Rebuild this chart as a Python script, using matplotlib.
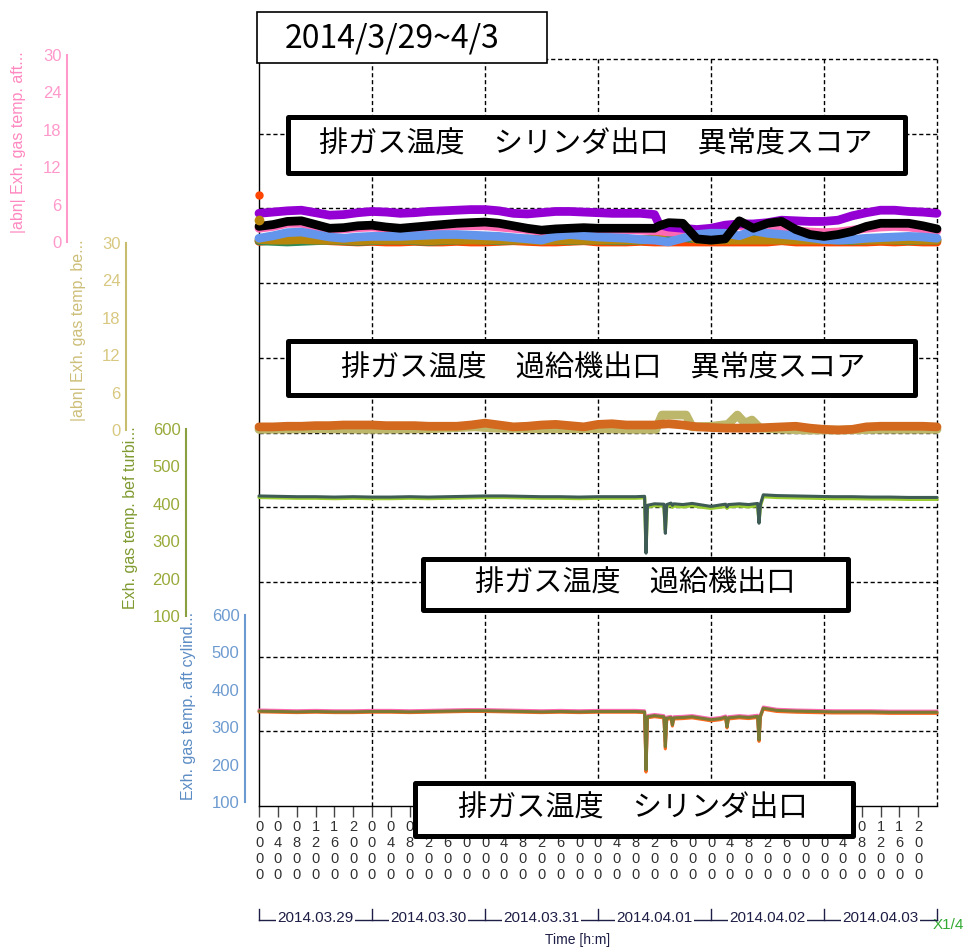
import matplotlib
matplotlib.use("Agg")
import matplotlib.pyplot as plt
from matplotlib.patches import Rectangle
from matplotlib.lines import Line2D

plt.rcParams['font.family'] = ['Liberation Sans', 'DejaVu Sans']

W, H = 967, 948

# ---------------- data ----------------
# panel 1: |abn| score, exhaust gas temp after cylinder (hours since 2014-03-29 00:00)
t_abn = [0, 3, 6, 9, 12, 15, 18, 21, 24, 27, 30, 33, 36, 39, 42, 45, 48, 51, 54, 57,
         60, 63, 66, 69, 72, 75, 78, 81, 84, 85, 87, 90, 93, 96, 99, 102, 105, 108, 111, 114,
         117, 120, 123, 126, 129, 132, 135, 138, 141, 144]
abn_cyl_purple = [4.6, 4.8, 5.0, 5.1, 4.7, 4.3, 4.4, 4.7, 4.9, 4.8, 4.6, 4.7, 4.9, 5.0, 5.1, 5.2, 5.2, 5.0, 4.6, 4.5,
                  4.7, 4.9, 4.9, 4.8, 4.7, 4.6, 4.6, 4.6, 4.4, 2.8, 2.4, 2.2, 2.0, 2.2, 2.7, 2.9, 2.9, 3.1, 3.5, 3.4,
                  3.3, 3.3, 3.5, 4.2, 4.7, 5.1, 5.1, 4.9, 4.8, 4.6]
abn_cyl_black = [2.5, 2.8, 3.3, 3.4, 2.8, 2.2, 2.3, 2.6, 2.7, 2.4, 2.2, 2.4, 2.6, 2.8, 3.0, 3.1, 3.2, 3.0, 2.6, 2.2,
                 1.9, 2.1, 2.2, 2.3, 2.2, 2.2, 2.2, 2.2, 2.2, 2.6, 3.1, 3.0, 0.5, 0.3, 0.5, 3.4, 2.2, 3.0, 3.3, 2.0,
                 1.2, 0.9, 1.2, 1.7, 2.5, 3.0, 3.0, 3.0, 2.6, 2.1]
abn_cyl_pink = [2.2, 2.5, 3.0, 3.0, 2.5, 2.0, 2.1, 2.3, 2.4, 2.2, 2.0, 2.2, 2.3, 2.5, 2.6, 2.6, 2.6, 2.4, 2.2, 2.0,
                1.7, 1.9, 2.0, 2.0, 2.0, 2.0, 2.0, 1.9, 1.8, 1.8, 1.6, 1.5, 1.4, 1.8, 2.4, 2.6, 2.4, 2.4, 2.2, 1.8,
                1.6, 1.5, 1.6, 1.9, 2.2, 2.4, 2.5, 2.4, 2.1, 1.8]
abn_cyl_blue = [0.6, 1.0, 1.5, 1.6, 1.2, 0.8, 0.6, 0.8, 0.9, 0.9, 0.9, 1.0, 1.1, 1.2, 1.2, 1.1, 1.0, 0.9, 0.7, 0.5,
                0.3, 0.9, 1.2, 1.0, 0.8, 0.7, 0.6, 0.4, 0.3, 0.2, 0.0, 0.6, 1.2, 1.4, 1.4, 1.0, 1.8, 1.4, 1.2, 1.0,
                0.7, 0.4, 0.3, 0.4, 0.6, 0.7, 0.8, 0.9, 0.8, 0.6]
abn_cyl_green = [0.2, 0.1, 0.0, 0.1, 0.2, 0.3, 0.2, 0.1, 0.2, 0.3, 0.3, 0.2, 0.1, 0.2, 0.3, 0.4, 0.3, 0.2, 0.3, 0.5,
                 0.4, 0.3, 0.2, 0.3, 0.3, 0.2, 0.2, 0.3, 0.5, 0.6, 0.8, 0.7, 0.5, 0.8, 0.9, 0.6, 0.4, 0.6, 0.8, 0.9,
                 0.7, 0.5, 0.3, 0.2, 0.3, 0.4, 0.3, 0.2, 0.3, 0.3]
abn_cyl_orange = [0.1, 0.3, 0.5, 0.6, 0.4, 0.2, 0.1, 0.0, 0.1, 0.0, 0.0, 0.1, 0.0, 0.0, 0.1, 0.0, 0.0, 0.1, 0.2, 0.1,
                  0.0, 0.0, 0.1, 0.2, 0.0, 0.0, 0.0, 0.1, 0.0, 0.0, 0.0, 0.0, 0.0, 0.0, 0.0, 0.0, 0.0, 0.0, 0.2, 0.0,
                  0.0, 0.0, 0.0, 0.0, 0.0, 0.1, 0.0, 0.1, 0.0, 0.0]
abn_cyl_gold = [0.4, 0.3, 0.3, 0.4, 0.3, 0.3, 0.3, 0.2, 0.3, 0.3, 0.3, 0.3, 0.2, 0.3, 0.3, 0.3, 0.3, 0.3, 0.3, 0.3,
                0.2, 0.3, 0.3, 0.3, 0.3, 0.3, 0.3, 0.3, 0.4, 1.0, 1.9, 1.5, 0.4, 0.3, 0.3, 0.3, 0.3, 0.3, 0.3, 0.3,
                0.3, 0.3, 0.3, 0.3, 0.3, 0.3, 0.3, 0.3, 0.3, 0.3]
abn_cyl_start_orange = 7.6
abn_cyl_start_gold = 3.5

# panel 2: |abn| score, exhaust gas temp before turbine
abn_tb_orange = [0.5, 0.5, 0.6, 0.6, 0.7, 0.7, 0.8, 0.8, 0.8, 0.7, 0.7, 0.7, 0.6, 0.6, 0.6, 0.8, 1.1, 0.8, 0.5, 0.6,
                 0.8, 0.9, 0.7, 0.5, 0.9, 1.0, 0.8, 0.8, 0.8, 0.9, 1.0, 0.8, 0.5, 0.4, 0.3, 0.3, 0.3, 0.4, 0.5, 0.6,
                 0.3, 0.1, 0.0, 0.1, 0.5, 0.6, 0.6, 0.6, 0.6, 0.5]
t_kh = [0, 12, 24, 36, 46, 50, 60, 72, 80, 84.3, 85.6, 90.7, 92.0, 96, 99.6, 101.6, 103.2, 104.7, 106.4,
        112, 116, 124, 132, 144]
abn_tb_khaki = [0.1, 0.2, 0.1, 0.2, 0.5, 0.3, 0.2, 0.2, 0.1, 0.1, 2.4, 2.4, 0.5, 0.6, 0.9, 2.4, 1.1, 1.6, 0.3,
                0.1, 0.0, 0.0, 0.1, 0.1]

# panels 3 & 4: temperatures
t_temp = [0, 4, 8, 12, 16, 20, 24, 28, 32, 36, 40, 44, 48, 52, 56, 60, 64, 68, 72, 76, 80,
          81.9, 82.2, 82.5, 84, 86.0, 86.3, 86.6, 87.5, 87.8, 88.1, 90, 92, 94, 96, 98,
          99.1, 99.4, 99.7, 102, 104, 105.9, 106.2, 106.5, 107.1,
          110, 114, 118, 122, 126, 130, 134, 138, 142, 144]
tb_dark = [421, 420, 419, 419, 418, 419, 418, 418, 419, 418, 419, 420, 421, 421, 420, 419, 419, 418, 419, 419, 419,
           420, 268, 396, 400, 399, 321, 398, 402, 396, 400, 398, 401, 397, 393, 397,
           399, 392, 398, 400, 398, 401, 348, 399, 424,
           422, 421, 420, 419, 419, 418, 418, 417, 417, 417]
tb_green = [417, 416, 415, 415, 414, 415, 414, 414, 415, 414, 415, 416, 417, 417, 416, 415, 415, 414, 415, 415, 415,
            416, 275, 392, 395, 394, 330, 393, 396, 391, 394, 392, 395, 391, 388, 391,
            393, 388, 392, 394, 392, 395, 352, 394, 419,
            417, 416, 415, 414, 414, 413, 413, 412, 412, 412]
cyl_olive = [343, 342, 341, 342, 341, 341, 342, 342, 341, 342, 343, 344, 344, 343, 342, 341, 342, 341, 342, 342, 342,
             341, 186, 328, 331, 328, 248, 324, 326, 306, 325, 326, 328, 324, 320, 323,
             327, 301, 325, 328, 326, 329, 266, 330, 351,
             345, 343, 342, 341, 341, 341, 340, 340, 340, 340]
cyl_orange = [341, 340, 339, 340, 339, 339, 340, 340, 339, 340, 341, 342, 342, 341, 340, 339, 340, 339, 340, 340, 340,
              339, 180, 325, 328, 325, 242, 321, 323, 303, 322, 323, 325, 321, 317, 320,
              324, 298, 322, 325, 323, 326, 262, 327, 348,
              342, 340, 339, 338, 338, 338, 337, 337, 337, 337]
cyl_pink = [346, 345, 344, 345, 344, 344, 345, 345, 344, 345, 346, 347, 347, 346, 345, 344, 345, 344, 345, 345, 345,
            344, 200, 331, 334, 331, 260, 327, 329, 312, 328, 329, 331, 327, 323, 326,
            330, 306, 328, 331, 329, 332, 272, 333, 354,
            348, 346, 345, 344, 344, 344, 343, 343, 343, 343]

tick_hours = list(range(0, 144, 4))
day_labels = ["2014.03.29", "2014.03.30", "2014.03.31", "2014.04.01", "2014.04.02", "2014.04.03"]
axis_labels = ["|abn| Exh. gas temp. aft...", "|abn| Exh. gas temp. be...",
               "Exh. gas temp. bef turbi...", "Exh. gas temp. aft cylind..."]
abn_ticks = [0, 6, 12, 18, 24, 30]
temp_ticks = [100, 200, 300, 400, 500, 600]
box_texts = ["排ガス温度　シリンダ出口　異常度スコア", "排ガス温度　過給機出口　異常度スコア",
             "排ガス温度　過給機出口", "排ガス温度　シリンダ出口"]
title_text = "2014/3/29~4/3"

# ---------------- figure ----------------
fig = plt.figure(figsize=(W / 100, H / 100), dpi=100)
fig.patch.set_facecolor('white')


def fx(px):
    return px / W


def fy(py):
    return 1 - py / H


X0, X1 = 259, 937
Y0, Y1 = 59, 806
DASH = (0, (3, 2))

bg = fig.add_axes([fx(X0), fy(Y1), (X1 - X0) / W, (Y1 - Y0) / H])
bg.set_xlim(0, 144)
bg.set_ylim(0, 10)
bg.set_yticks([])
for s in ['top', 'right']:
    bg.spines[s].set_visible(False)
for s in ['left', 'bottom']:
    bg.spines[s].set_linewidth(1.0)
    bg.spines[s].set_color('black')
for k in range(1, 11):
    bg.axhline(k, color='black', lw=1.0, ls=DASH, zorder=0.5, clip_on=False)
for d in range(1, 7):
    bg.axvline(24 * d, color='black', lw=1.0, ls=DASH, zorder=0.5, clip_on=False)
bg.set_xticks(tick_hours)
bg.set_xticklabels(["\n".join(f"{h % 24:02d}00") for h in tick_hours],
                   fontsize=10.5, linespacing=1.2, color='#303030')
bg.tick_params(axis='x', length=8, width=1, color='#444444', pad=2)


def make_panel(top, bot, spine_x, ylim, ticks, color, labcolor):
    a = fig.add_axes([fx(X0), fy(bot), (X1 - X0) / W, (bot - top) / H])
    a.patch.set_visible(False)
    a.set_xlim(0, 144)
    a.set_ylim(*ylim)
    a.set_xticks([])
    for s in ['top', 'right', 'bottom']:
        a.spines[s].set_visible(False)
    a.spines['left'].set_position(('axes', (spine_x - X0) / (X1 - X0)))
    a.spines['left'].set_color(color)
    a.spines['left'].set_linewidth(1.5)
    a.set_yticks(ticks)
    a.tick_params(axis='y', length=0, pad=4, labelsize=12, labelcolor=labcolor)
    return a


def draw(a, t, v, color, lw, z):
    a.plot(t, v, color=color, lw=lw, solid_capstyle='round', solid_joinstyle='round',
           clip_on=False, zorder=z)


# panel 1
p1 = make_panel(55, 242, 67, (0, 30), abn_ticks, '#FF99CC', '#FF99CC')
LW1 = 6.3
draw(p1, t_abn, abn_cyl_orange, '#FF4500', LW1, 2)
draw(p1, t_abn, abn_cyl_green, '#2E8B57', LW1, 3)
draw(p1, t_abn, abn_cyl_gold, '#B8860B', LW1, 3.5)
draw(p1, t_abn, abn_cyl_pink, '#FF69B4', LW1, 4)
draw(p1, t_abn, abn_cyl_purple, '#9400D3', LW1, 5)
draw(p1, t_abn, abn_cyl_blue, '#6495ED', LW1, 6)
draw(p1, t_abn, abn_cyl_black, '#000000', LW1, 7)
p1.plot([t_abn[0]], [abn_cyl_start_orange], 'o', color='#FF4500', ms=5, clip_on=False, zorder=8)
p1.plot([t_abn[0]], [abn_cyl_start_gold], 'o', color='#B8860B', ms=6, clip_on=False, zorder=8)

# panel 2
p2 = make_panel(243, 430, 126, (0, 30), abn_ticks, '#C8BC6E', '#D8C880')
draw(p2, t_kh, abn_tb_khaki, '#BDB76B', 6.3, 3)
draw(p2, t_abn, abn_tb_orange, '#D2691E', 6.3, 4)

# panel 3
p3 = make_panel(429, 616, 186, (100, 600), temp_ticks, '#8AA040', '#9AAA3A')
draw(p3, t_temp, tb_green, '#9ACD32', 2.4, 3)
draw(p3, t_temp, tb_dark, '#3E5B55', 2.2, 4)

# panel 4
p4 = make_panel(615, 802, 245, (100, 600), temp_ticks, '#6A9AD0', '#6D9BD0')
draw(p4, t_temp, cyl_pink, '#FF69B4', 2.2, 2)
draw(p4, t_temp, cyl_orange, '#FF6A20', 2.2, 3)
draw(p4, t_temp, cyl_olive, '#7A7A35', 2.2, 4)

# axis labels
lab_cols = ['#FF88C0', '#CDBE78', '#7F9A2F', '#5B8CC4']
lab_pos = [(19, 142), (78, 330), (130, 518), (188, 706)]
for txt, c, (x, y) in zip(axis_labels, lab_cols, lab_pos):
    fig.text(fx(x), fy(y), txt, rotation=90, ha='center', va='center', fontsize=11.5, color=c)

# title box
fig.add_artist(Rectangle((fx(257), fy(63)), (547 - 257) / W, (63 - 12) / H, transform=fig.transFigure,
                         facecolor='white', edgecolor='black', lw=1.2, zorder=10))
fig.text(fx(392), fy(38), title_text, fontsize=23, family=['Noto Sans CJK JP', 'DejaVu Sans'],
         ha='center', va='center', zorder=11)

# annotation boxes
boxes = [((287.5, 117.5, 904.5, 172.5), (596, 145)),
         ((287.5, 341.5, 914.5, 395.5), (603, 369)),
         ((422.5, 558.5, 847.5, 609.5), (635, 584)),
         ((414.5, 782.5, 852.5, 835.5), (633, 809))]
for txt, ((x0, y0, x1, y1), (cx, cy)) in zip(box_texts, boxes):
    fig.add_artist(Rectangle((fx(x0), fy(y1)), (x1 - x0) / W, (y1 - y0) / H, transform=fig.transFigure,
                             facecolor='white', edgecolor='black', lw=3.6, joinstyle='round', zorder=10))
    fig.text(fx(cx), fy(cy), txt, fontsize=21, family=['Noto Sans CJK JP', 'DejaVu Sans'],
             ha='center', va='center', zorder=11)

# day axis below
DCOL = '#1e1e46'
fig.add_artist(Line2D([fx(X0), fx(X1)], [fy(920), fy(920)], transform=fig.transFigure,
                      color=DCOL, lw=1.0, zorder=5))
day_w = (X1 - X0) / 6
for k in range(7):
    xk = X0 + day_w * k
    fig.add_artist(Line2D([fx(xk), fx(xk)], [fy(909), fy(920)], transform=fig.transFigure,
                          color=DCOL, lw=1.0, zorder=5))
for k, lab in enumerate(day_labels):
    fig.text(fx(X0 + day_w * (k + 0.5)), fy(918), lab, fontsize=11, color=DCOL, ha='center', va='center',
             zorder=6, bbox=dict(facecolor='white', edgecolor='none', pad=1.2))
fig.text(fx(578), fy(940), "Time [h:m]", fontsize=10, color=DCOL, ha='center', va='center')
fig.text(fx(948), fy(925), "X1/4", fontsize=11, color='#33AA33', ha='center', va='center')

fig.savefig("out.png", dpi=100)
